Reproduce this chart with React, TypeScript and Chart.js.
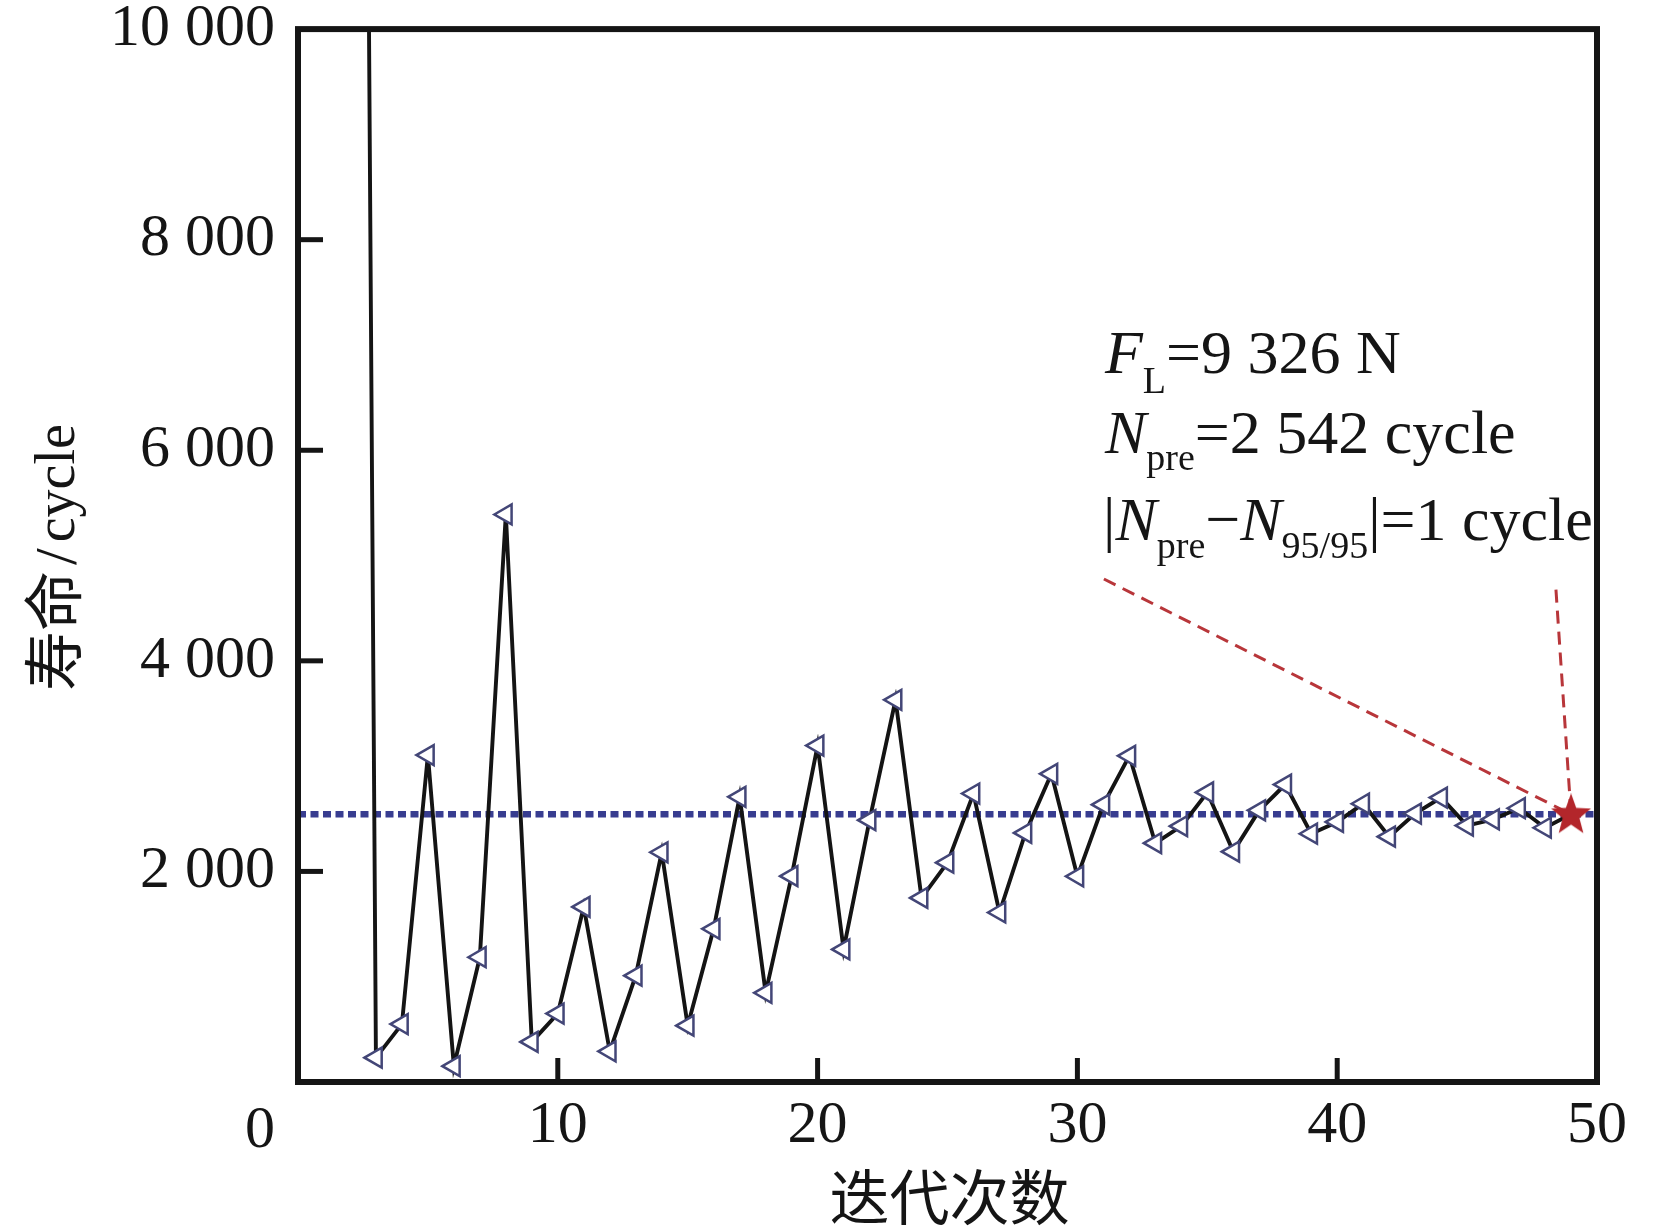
import React, { useEffect, useRef } from "react";
import Chart from "chart.js/auto";

// iteration number and predicted life after each iteration
const iterations = [
  2, 3, 4, 5, 6, 7, 8, 9, 10, 11, 12, 13, 14, 15, 16, 17, 18, 19, 20, 21, 22, 23, 24, 25,
  26, 27, 28, 29, 30, 31, 32, 33, 34, 35, 36, 37, 38, 39, 40, 41, 42, 43, 44, 45, 46, 47, 48, 49,
];
const lifeCycles = [
  36800, 231, 550, 3105, 150, 1185, 5390, 381, 650, 1663, 291, 1010, 2182, 535, 1455, 2708,
  847, 1955, 3195, 1259, 2487, 3630, 1748, 2083, 2740, 1610, 2366, 2927, 1953, 2634, 3098,
  2268, 2430, 2750, 2188, 2580, 2825, 2358, 2470, 2643, 2330, 2549, 2701, 2435, 2495, 2600,
  2415, 2542,
];
const predictedLife = 2542;
const finalIteration = 49;
const leaderStartX = [31.02, 48.42];
const leaderStartY = [4777, 4676];
const xRange = [0, 50];
const yRange = [0, 10000];

const SERIF = '"Liberation Serif", "Times New Roman", serif';
const CJK = '"Noto Sans CJK SC", sans-serif';
const INK = "#151515";

function makeStar(size: number, color: string) {
  const c = document.createElement("canvas");
  c.width = size;
  c.height = size;
  const g = c.getContext("2d")!;
  const R = size / 2;
  const r = R * 0.42;
  g.beginPath();
  for (let i = 0; i < 10; i++) {
    const a = -Math.PI / 2 + (i * Math.PI) / 5;
    const rad = i % 2 === 0 ? R : r;
    g.lineTo(R + rad * Math.cos(a), R + rad * 1.05 * Math.sin(a) + 1);
  }
  g.closePath();
  g.fillStyle = color;
  g.fill();
  return c;
}

type Seg = { t: string; size: number; italic?: boolean; dy?: number };

function drawRich(ctx: CanvasRenderingContext2D, segs: Seg[], x: number, y: number) {
  let cx = x;
  for (const s of segs) {
    ctx.font = `${s.italic ? "italic " : ""}${s.size}px ${SERIF}`;
    ctx.fillText(s.t, cx, y + (s.dy || 0));
    cx += ctx.measureText(s.t).width;
  }
}

const framePlugin = {
  id: "frame",
  afterDatasetsDraw(chart: any) {
    const { ctx, chartArea: a, scales } = chart;
    ctx.save();
    ctx.strokeStyle = INK;
    ctx.lineWidth = 5;
    [2000, 4000, 6000, 8000].forEach((v) => {
      const y = scales.y.getPixelForValue(v);
      ctx.beginPath();
      ctx.moveTo(a.left, y);
      ctx.lineTo(a.left + 25, y);
      ctx.stroke();
    });
    [10, 20, 30, 40].forEach((v) => {
      const x = scales.x.getPixelForValue(v);
      ctx.beginPath();
      ctx.moveTo(x, a.bottom);
      ctx.lineTo(x, a.bottom - 24);
      ctx.stroke();
    });
    ctx.lineWidth = 6;
    ctx.strokeRect(a.left, a.top, a.right - a.left, a.bottom - a.top);
    ctx.restore();
  },
  afterDraw(chart: any) {
    const { ctx, chartArea: a } = chart;
    ctx.save();
    ctx.fillStyle = INK;
    ctx.textAlign = "left";
    ctx.textBaseline = "alphabetic";

    // origin label
    ctx.font = `60px ${SERIF}`;
    ctx.textAlign = "center";
    ctx.fillText("0", a.left - 38, a.bottom + 65);

    // x title
    ctx.font = `60px ${CJK}`;
    ctx.textBaseline = "middle";
    ctx.fillText("迭代次数", (a.left + a.right) / 2 + 2, a.bottom + 115);

    // y title, rotated
    ctx.save();
    ctx.translate(76, (a.top + a.bottom) / 2 + 2);
    ctx.rotate(-Math.PI / 2);
    ctx.textAlign = "left";
    ctx.textBaseline = "alphabetic";
    const parts = [
      { t: "寿命", font: `60px ${CJK}`, gap: 6, dy: 0 },
      { t: "/", font: `60px ${SERIF}`, gap: 6, dy: 0 },
      { t: "cycle", font: `56px ${SERIF}`, gap: 0, dy: -2 },
    ];
    let total = 0;
    parts.forEach((p) => {
      ctx.font = p.font;
      total += ctx.measureText(p.t).width + p.gap;
    });
    let px = -total / 2;
    parts.forEach((p) => {
      ctx.font = p.font;
      ctx.fillText(p.t, px, p.dy);
      px += ctx.measureText(p.t).width + p.gap;
    });
    ctx.restore();

    // annotation
    ctx.textAlign = "left";
    ctx.textBaseline = "alphabetic";
    const tx = a.left + 807;
    drawRich(
      ctx,
      [
        { t: "F", size: 62, italic: true },
        { t: "L", size: 38, dy: 20 },
        { t: "=9 326 N", size: 62 },
      ],
      tx,
      a.top + 344
    );
    drawRich(
      ctx,
      [
        { t: "N", size: 62, italic: true },
        { t: "pre", size: 38, dy: 17 },
        { t: "=2 542 cycle", size: 62 },
      ],
      tx,
      a.top + 424
    );
    drawRich(
      ctx,
      [
        { t: "|", size: 62 },
        { t: "N", size: 62, italic: true },
        { t: "pre", size: 38, dy: 18 },
        { t: "\u2212", size: 62 },
        { t: "N", size: 62, italic: true },
        { t: "95/95", size: 38, dy: 18 },
        { t: "|=1 cycle", size: 62 },
      ],
      tx - 2,
      a.top + 511
    );
    ctx.restore();
  },
};

export default function App() {
  const canvasRef = useRef<HTMLCanvasElement | null>(null);

  useEffect(() => {
    document.body.style.margin = "0";
    if (!canvasRef.current) return;
    const star = makeStar(42, "#b3262b");
    const last = iterations.length - 1;

    const chart = new Chart(canvasRef.current, {
      type: "line",
      data: {
        datasets: [
          {
            data: [{ x: finalIteration, y: predictedLife }],
            pointStyle: star as any,
            pointRadius: 12,
            showLine: false,
            order: 0,
          },
          {
            data: iterations.map((x, i) => ({ x, y: lifeCycles[i] })),
            borderColor: "#141414",
            borderWidth: 3.9,
            pointStyle: "triangle",
            rotation: -90,
            pointRadius: (c: any) => (c.dataIndex === last ? 0 : 11.5),
            pointBorderColor: "#434677",
            pointBackgroundColor: "#ffffff",
            pointBorderWidth: 2.5,
            tension: 0,
            clip: 0 as any,
            order: 1,
          },
          {
            data: xRange.map((x) => ({ x, y: predictedLife })),
            borderColor: "#383d90",
            borderWidth: 6.5,
            borderDash: [8, 4.5],
            pointRadius: 0,
            order: 2,
          },
          ...leaderStartX.map((x, i) => ({
            data: [
              { x, y: leaderStartY[i] },
              { x: finalIteration, y: predictedLife },
            ],
            borderColor: "#b8363a",
            borderWidth: 3,
            borderDash: [13, 8],
            pointRadius: 0,
            order: 3,
          })),
        ],
      },
      options: {
        animation: false,
        responsive: false,
        devicePixelRatio: 1,
        events: [],
        layout: { padding: { left: 110, right: 56, top: 29, bottom: 70 } },
        plugins: { legend: { display: false }, tooltip: { enabled: false } },
        scales: {
          x: {
            type: "linear",
            min: xRange[0],
            max: xRange[1],
            border: { display: false },
            grid: { drawOnChartArea: false, drawTicks: true, tickLength: 8, tickColor: "rgba(0,0,0,0)" },
            ticks: {
              stepSize: 10,
              padding: 0,
              color: INK,
              font: { family: SERIF, size: 60 },
              callback: (v: any) => (v === 0 ? "" : String(v)),
            },
          },
          y: {
            min: yRange[0],
            max: yRange[1],
            border: { display: false },
            grid: { drawOnChartArea: false, drawTicks: true, tickLength: 23, tickColor: "rgba(0,0,0,0)" },
            ticks: {
              stepSize: 2000,
              padding: 0,
              color: INK,
              font: { family: SERIF, size: 60, lineHeight: 0.97 },
              callback: (v: any) =>
                v === 0 ? "" : Number(v).toLocaleString("en-US").replace(/,/g, " "),
            },
          },
        },
      },
      plugins: [framePlugin],
    });

    return () => {
      chart.destroy();
    };
  }, []);

  return (
    <div style={{ width: 1653, height: 1232, background: "#fff" }}>
      <canvas ref={canvasRef} width={1653} height={1232} style={{ display: "block" }} />
    </div>
  );
}
